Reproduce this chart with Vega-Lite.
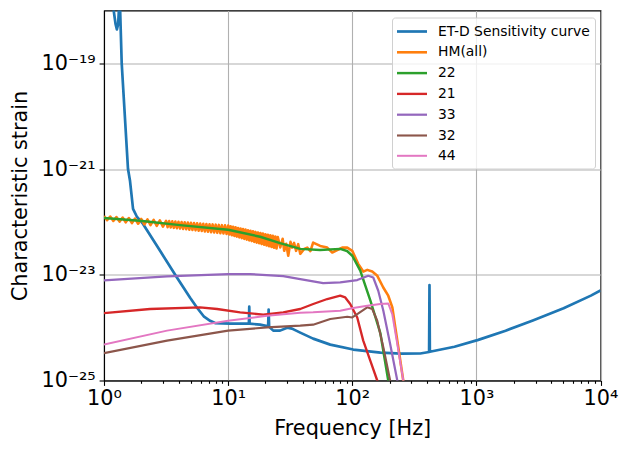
{
  "$schema": "https://vega.github.io/schema/vega-lite/v6.json",
  "autosize": {"type": "none"},
  "padding": {"left": 104, "top": 10.5, "right": 27.5, "bottom": 69.5},
  "width": 496.5,
  "height": 370,
  "background": "white",
  "config": {
    "font": "DejaVu Sans",
    "view": {"stroke": "black", "strokeWidth": 1.1},
    "axis": {
      "labelFont": "DejaVu Sans",
      "titleFont": "DejaVu Sans",
      "labelFontSize": 20.8,
      "titleFontSize": 20.8,
      "titleFontWeight": "normal",
      "labelColor": "black",
      "titleColor": "black",
      "domainColor": "black",
      "domainWidth": 1.1,
      "tickColor": "black",
      "tickWidth": 1.1,
      "gridColor": "#b0b0b0",
      "gridWidth": 1.1,
      "labelOverlap": false,
      "labelFlush": false
    },
    "legend": {
      "labelFont": "DejaVu Sans",
      "labelFontSize": 13.9,
      "labelColor": "black"
    }
  },
  "data": {
    "values": [
      {"series": "ET-D Sensitivity curve", "f": 1.0, "h": 1e-16},
      {"series": "ET-D Sensitivity curve", "f": 1.19, "h": 1.1e-18},
      {"series": "ET-D Sensitivity curve", "f": 1.24, "h": 5.5e-19},
      {"series": "ET-D Sensitivity curve", "f": 1.27, "h": 4.4e-19},
      {"series": "ET-D Sensitivity curve", "f": 1.30, "h": 5.5e-19},
      {"series": "ET-D Sensitivity curve", "f": 1.33, "h": 1.5e-18},
      {"series": "ET-D Sensitivity curve", "f": 1.345, "h": 1.3e-18},
      {"series": "ET-D Sensitivity curve", "f": 1.389, "h": 1.0e-19},
      {"series": "ET-D Sensitivity curve", "f": 1.561, "h": 1.0e-21},
      {"series": "ET-D Sensitivity curve", "f": 1.621, "h": 5.94e-22},
      {"series": "ET-D Sensitivity curve", "f": 1.714, "h": 1.76e-22},
      {"series": "ET-D Sensitivity curve", "f": 1.845, "h": 1.24e-22},
      {"series": "ET-D Sensitivity curve", "f": 2.063, "h": 9.16e-23},
      {"series": "ET-D Sensitivity curve", "f": 2.83, "h": 2.84e-23},
      {"series": "ET-D Sensitivity curve", "f": 3.88, "h": 8.77e-24},
      {"series": "ET-D Sensitivity curve", "f": 4.94, "h": 3.68e-24},
      {"series": "ET-D Sensitivity curve", "f": 5.62, "h": 2.38e-24},
      {"series": "ET-D Sensitivity curve", "f": 6.40, "h": 1.61e-24},
      {"series": "ET-D Sensitivity curve", "f": 7.16, "h": 1.35e-24},
      {"series": "ET-D Sensitivity curve", "f": 7.85, "h": 1.22e-24},
      {"series": "ET-D Sensitivity curve", "f": 10.4, "h": 1.19e-24},
      {"series": "ET-D Sensitivity curve", "f": 14.5, "h": 1.19e-24},
      {"series": "ET-D Sensitivity curve", "f": 14.7, "h": 1.19e-24},
      {"series": "ET-D Sensitivity curve", "f": 14.8, "h": 2.49e-24},
      {"series": "ET-D Sensitivity curve", "f": 14.9, "h": 1.19e-24},
      {"series": "ET-D Sensitivity curve", "f": 18.1, "h": 1.14e-24},
      {"series": "ET-D Sensitivity curve", "f": 20.6, "h": 1.07e-24},
      {"series": "ET-D Sensitivity curve", "f": 21.0, "h": 1.06e-24},
      {"series": "ET-D Sensitivity curve", "f": 21.2, "h": 2.19e-24},
      {"series": "ET-D Sensitivity curve", "f": 21.4, "h": 1.04e-24},
      {"series": "ET-D Sensitivity curve", "f": 23.1, "h": 8.78e-25},
      {"series": "ET-D Sensitivity curve", "f": 26.2, "h": 8.78e-25},
      {"series": "ET-D Sensitivity curve", "f": 29.9, "h": 1.0e-24},
      {"series": "ET-D Sensitivity curve", "f": 32.7, "h": 9.57e-25},
      {"series": "ET-D Sensitivity curve", "f": 38.1, "h": 8.05e-25},
      {"series": "ET-D Sensitivity curve", "f": 48.4, "h": 6.2e-25},
      {"series": "ET-D Sensitivity curve", "f": 66.5, "h": 4.77e-25},
      {"series": "ET-D Sensitivity curve", "f": 101.9, "h": 3.85e-25},
      {"series": "ET-D Sensitivity curve", "f": 168.6, "h": 3.37e-25},
      {"series": "ET-D Sensitivity curve", "f": 250, "h": 3.22e-25},
      {"series": "ET-D Sensitivity curve", "f": 353, "h": 3.24e-25},
      {"series": "ET-D Sensitivity curve", "f": 416, "h": 3.46e-25},
      {"series": "ET-D Sensitivity curve", "f": 419, "h": 6.38e-24},
      {"series": "ET-D Sensitivity curve", "f": 422, "h": 3.5e-25},
      {"series": "ET-D Sensitivity curve", "f": 666, "h": 4.36e-25},
      {"series": "ET-D Sensitivity curve", "f": 1036, "h": 5.87e-25},
      {"series": "ET-D Sensitivity curve", "f": 1720, "h": 8.77e-25},
      {"series": "ET-D Sensitivity curve", "f": 2850, "h": 1.37e-24},
      {"series": "ET-D Sensitivity curve", "f": 5040, "h": 2.33e-24},
      {"series": "ET-D Sensitivity curve", "f": 8367, "h": 4.03e-24},
      {"series": "ET-D Sensitivity curve", "f": 10000, "h": 5.05e-24},

      {"series": "HM(all)", "f": 1.0, "h": 1.288e-22},
      {"series": "HM(all)", "f": 1.059, "h": 1.079e-22},
      {"series": "HM(all)", "f": 1.122, "h": 1.262e-22},
      {"series": "HM(all)", "f": 1.189, "h": 1.047e-22},
      {"series": "HM(all)", "f": 1.259, "h": 1.236e-22},
      {"series": "HM(all)", "f": 1.334, "h": 1.014e-22},
      {"series": "HM(all)", "f": 1.413, "h": 1.211e-22},
      {"series": "HM(all)", "f": 1.496, "h": 9.84e-23},
      {"series": "HM(all)", "f": 1.585, "h": 1.186e-22},
      {"series": "HM(all)", "f": 1.679, "h": 9.53e-23},
      {"series": "HM(all)", "f": 1.778, "h": 1.161e-22},
      {"series": "HM(all)", "f": 1.884, "h": 9.25e-23},
      {"series": "HM(all)", "f": 1.995, "h": 1.138e-22},
      {"series": "HM(all)", "f": 2.113, "h": 8.95e-23},
      {"series": "HM(all)", "f": 2.239, "h": 1.114e-22},
      {"series": "HM(all)", "f": 2.371, "h": 8.69e-23},
      {"series": "HM(all)", "f": 2.512, "h": 1.091e-22},
      {"series": "HM(all)", "f": 2.661, "h": 8.41e-23},
      {"series": "HM(all)", "f": 2.818, "h": 1.069e-22},
      {"series": "HM(all)", "f": 2.985, "h": 8.17e-23},
      {"series": "HM(all)", "f": 3.162, "h": 1.047e-22},
      {"series": "HM(all)", "f": 3.255, "h": 7.97e-23},
      {"series": "HM(all)", "f": 3.350, "h": 1.036e-22},
      {"series": "HM(all)", "f": 3.447, "h": 7.85e-23},
      {"series": "HM(all)", "f": 3.548, "h": 1.026e-22},
      {"series": "HM(all)", "f": 3.652, "h": 7.73e-23},
      {"series": "HM(all)", "f": 3.758, "h": 1.015e-22},
      {"series": "HM(all)", "f": 3.868, "h": 7.61e-23},
      {"series": "HM(all)", "f": 3.981, "h": 1.005e-22},
      {"series": "HM(all)", "f": 4.097, "h": 7.49e-23},
      {"series": "HM(all)", "f": 4.217, "h": 9.94e-23},
      {"series": "HM(all)", "f": 4.340, "h": 7.38e-23},
      {"series": "HM(all)", "f": 4.467, "h": 9.84e-23},
      {"series": "HM(all)", "f": 4.597, "h": 7.26e-23},
      {"series": "HM(all)", "f": 4.732, "h": 9.74e-23},
      {"series": "HM(all)", "f": 4.870, "h": 7.15e-23},
      {"series": "HM(all)", "f": 5.012, "h": 9.64e-23},
      {"series": "HM(all)", "f": 5.158, "h": 7.04e-23},
      {"series": "HM(all)", "f": 5.309, "h": 9.54e-23},
      {"series": "HM(all)", "f": 5.464, "h": 6.93e-23},
      {"series": "HM(all)", "f": 5.623, "h": 9.44e-23},
      {"series": "HM(all)", "f": 5.787, "h": 6.83e-23},
      {"series": "HM(all)", "f": 5.957, "h": 9.34e-23},
      {"series": "HM(all)", "f": 6.131, "h": 6.72e-23},
      {"series": "HM(all)", "f": 6.310, "h": 9.25e-23},
      {"series": "HM(all)", "f": 6.494, "h": 6.62e-23},
      {"series": "HM(all)", "f": 6.683, "h": 9.15e-23},
      {"series": "HM(all)", "f": 6.879, "h": 6.51e-23},
      {"series": "HM(all)", "f": 7.079, "h": 9.06e-23},
      {"series": "HM(all)", "f": 7.286, "h": 6.41e-23},
      {"series": "HM(all)", "f": 7.499, "h": 8.97e-23},
      {"series": "HM(all)", "f": 7.718, "h": 6.31e-23},
      {"series": "HM(all)", "f": 7.943, "h": 8.87e-23},
      {"series": "HM(all)", "f": 8.175, "h": 6.22e-23},
      {"series": "HM(all)", "f": 8.414, "h": 8.78e-23},
      {"series": "HM(all)", "f": 8.660, "h": 6.12e-23},
      {"series": "HM(all)", "f": 8.913, "h": 8.69e-23},
      {"series": "HM(all)", "f": 9.173, "h": 6.03e-23},
      {"series": "HM(all)", "f": 9.441, "h": 8.60e-23},
      {"series": "HM(all)", "f": 9.716, "h": 5.93e-23},
      {"series": "HM(all)", "f": 10.0, "h": 8.51e-23},
      {"series": "HM(all)", "f": 10.23, "h": 5.79e-23},
      {"series": "HM(all)", "f": 10.47, "h": 8.30e-23},
      {"series": "HM(all)", "f": 10.72, "h": 5.61e-23},
      {"series": "HM(all)", "f": 10.96, "h": 8.10e-23},
      {"series": "HM(all)", "f": 11.22, "h": 5.43e-23},
      {"series": "HM(all)", "f": 11.48, "h": 7.90e-23},
      {"series": "HM(all)", "f": 11.75, "h": 5.26e-23},
      {"series": "HM(all)", "f": 12.02, "h": 7.70e-23},
      {"series": "HM(all)", "f": 12.30, "h": 5.09e-23},
      {"series": "HM(all)", "f": 12.59, "h": 7.52e-23},
      {"series": "HM(all)", "f": 12.88, "h": 4.93e-23},
      {"series": "HM(all)", "f": 13.18, "h": 7.33e-23},
      {"series": "HM(all)", "f": 13.49, "h": 4.78e-23},
      {"series": "HM(all)", "f": 13.80, "h": 7.15e-23},
      {"series": "HM(all)", "f": 14.13, "h": 4.62e-23},
      {"series": "HM(all)", "f": 14.45, "h": 6.98e-23},
      {"series": "HM(all)", "f": 14.79, "h": 4.48e-23},
      {"series": "HM(all)", "f": 15.14, "h": 6.81e-23},
      {"series": "HM(all)", "f": 15.49, "h": 4.34e-23},
      {"series": "HM(all)", "f": 15.85, "h": 6.64e-23},
      {"series": "HM(all)", "f": 16.22, "h": 4.20e-23},
      {"series": "HM(all)", "f": 16.60, "h": 6.47e-23},
      {"series": "HM(all)", "f": 16.98, "h": 4.06e-23},
      {"series": "HM(all)", "f": 17.38, "h": 6.31e-23},
      {"series": "HM(all)", "f": 17.78, "h": 3.94e-23},
      {"series": "HM(all)", "f": 18.20, "h": 6.16e-23},
      {"series": "HM(all)", "f": 18.62, "h": 3.81e-23},
      {"series": "HM(all)", "f": 19.05, "h": 6.01e-23},
      {"series": "HM(all)", "f": 19.50, "h": 3.69e-23},
      {"series": "HM(all)", "f": 19.95, "h": 5.86e-23},
      {"series": "HM(all)", "f": 20.42, "h": 3.57e-23},
      {"series": "HM(all)", "f": 20.89, "h": 5.72e-23},
      {"series": "HM(all)", "f": 21.38, "h": 3.46e-23},
      {"series": "HM(all)", "f": 21.88, "h": 5.58e-23},
      {"series": "HM(all)", "f": 22.39, "h": 3.35e-23},
      {"series": "HM(all)", "f": 22.91, "h": 5.44e-23},
      {"series": "HM(all)", "f": 23.44, "h": 3.24e-23},
      {"series": "HM(all)", "f": 23.99, "h": 5.31e-23},
      {"series": "HM(all)", "f": 24.55, "h": 3.14e-23},
      {"series": "HM(all)", "f": 25.12, "h": 5.18e-23},
      {"series": "HM(all)", "f": 26.3, "h": 3.3e-23},
      {"series": "HM(all)", "f": 27.5, "h": 4.8e-23},
      {"series": "HM(all)", "f": 28.3, "h": 2.84e-23},
      {"series": "HM(all)", "f": 29.4, "h": 3.85e-23},
      {"series": "HM(all)", "f": 30.5, "h": 2.29e-23},
      {"series": "HM(all)", "f": 31.8, "h": 4.2e-23},
      {"series": "HM(all)", "f": 32.8, "h": 3.27e-23},
      {"series": "HM(all)", "f": 34.0, "h": 4.0e-23},
      {"series": "HM(all)", "f": 35.3, "h": 2.84e-23},
      {"series": "HM(all)", "f": 36.7, "h": 3.8e-23},
      {"series": "HM(all)", "f": 38.1, "h": 2.49e-23},
      {"series": "HM(all)", "f": 41.0, "h": 3.09e-23},
      {"series": "HM(all)", "f": 43.4, "h": 3.27e-23},
      {"series": "HM(all)", "f": 46.0, "h": 2.8e-23},
      {"series": "HM(all)", "f": 48.4, "h": 4.07e-23},
      {"series": "HM(all)", "f": 55.2, "h": 3.52e-23},
      {"series": "HM(all)", "f": 62.8, "h": 3.27e-23},
      {"series": "HM(all)", "f": 69.0, "h": 2.64e-23},
      {"series": "HM(all)", "f": 75.7, "h": 2.92e-23},
      {"series": "HM(all)", "f": 83.0, "h": 3.27e-23},
      {"series": "HM(all)", "f": 91.2, "h": 3.27e-23},
      {"series": "HM(all)", "f": 100, "h": 2.84e-23},
      {"series": "HM(all)", "f": 111.7, "h": 1.61e-23},
      {"series": "HM(all)", "f": 122.7, "h": 1.15e-23},
      {"series": "HM(all)", "f": 132.1, "h": 1.24e-23},
      {"series": "HM(all)", "f": 144.9, "h": 1.15e-23},
      {"series": "HM(all)", "f": 159.2, "h": 9.57e-24},
      {"series": "HM(all)", "f": 177.8, "h": 5.75e-24},
      {"series": "HM(all)", "f": 195, "h": 4.02e-24},
      {"series": "HM(all)", "f": 210.4, "h": 2.42e-24},
      {"series": "HM(all)", "f": 222.3, "h": 1.01e-24},
      {"series": "HM(all)", "f": 235, "h": 4.27e-25},
      {"series": "HM(all)", "f": 257.6, "h": 1.0e-25},
      {"series": "HM(all)", "f": 282, "h": 2.5e-26},

      {"series": "22", "f": 1, "h": 1.19e-22},
      {"series": "22", "f": 1.95, "h": 1.05e-22},
      {"series": "22", "f": 4.1, "h": 8.7e-23},
      {"series": "22", "f": 10, "h": 7.1e-23},
      {"series": "22", "f": 18.1, "h": 5.25e-23},
      {"series": "22", "f": 26.2, "h": 3.98e-23},
      {"series": "22", "f": 38.1, "h": 3.09e-23},
      {"series": "22", "f": 55, "h": 2.95e-23},
      {"series": "22", "f": 80, "h": 3.09e-23},
      {"series": "22", "f": 90.8, "h": 2.82e-23},
      {"series": "22", "f": 100, "h": 2.29e-23},
      {"series": "22", "f": 116, "h": 1.2e-23},
      {"series": "22", "f": 140, "h": 3.24e-24},
      {"series": "22", "f": 168.6, "h": 7.76e-25},
      {"series": "22", "f": 195, "h": 1.0e-25},
      {"series": "22", "f": 230, "h": 2.0e-26},

      {"series": "21", "f": 1, "h": 1.88e-24},
      {"series": "21", "f": 2.35, "h": 2.25e-24},
      {"series": "21", "f": 5.94, "h": 2.42e-24},
      {"series": "21", "f": 8.15, "h": 2.25e-24},
      {"series": "21", "f": 12.5, "h": 1.95e-24},
      {"series": "21", "f": 19.2, "h": 1.76e-24},
      {"series": "21", "f": 27.8, "h": 1.95e-24},
      {"series": "21", "f": 38.1, "h": 2.25e-24},
      {"series": "21", "f": 48.5, "h": 2.8e-24},
      {"series": "21", "f": 62.9, "h": 3.48e-24},
      {"series": "21", "f": 80, "h": 4.02e-24},
      {"series": "21", "f": 87.8, "h": 3.73e-24},
      {"series": "21", "f": 96.3, "h": 2.8e-24},
      {"series": "21", "f": 109.7, "h": 1.56e-24},
      {"series": "21", "f": 122.6, "h": 5.69e-25},
      {"series": "21", "f": 139.7, "h": 2.38e-25},
      {"series": "21", "f": 159, "h": 1.0e-25},
      {"series": "21", "f": 180, "h": 4e-26},

      {"series": "33", "f": 1, "h": 7.87e-24},
      {"series": "33", "f": 3.22, "h": 9.29e-24},
      {"series": "33", "f": 10, "h": 1.03e-23},
      {"series": "33", "f": 15, "h": 1.03e-23},
      {"series": "33", "f": 27.8, "h": 9.44e-24},
      {"series": "33", "f": 38.1, "h": 8.3e-24},
      {"series": "33", "f": 58.3, "h": 6.97e-24},
      {"series": "33", "f": 80, "h": 7.16e-24},
      {"series": "33", "f": 109.7, "h": 7.94e-24},
      {"series": "33", "f": 134.6, "h": 9.57e-24},
      {"series": "33", "f": 147.6, "h": 8.89e-24},
      {"series": "33", "f": 162, "h": 4.99e-24},
      {"series": "33", "f": 178, "h": 2.09e-24},
      {"series": "33", "f": 202, "h": 4.92e-25},
      {"series": "33", "f": 230.6, "h": 1.0e-25},
      {"series": "33", "f": 260, "h": 2e-26},

      {"series": "32", "f": 1, "h": 3.3e-25},
      {"series": "32", "f": 3.22, "h": 5.69e-25},
      {"series": "32", "f": 10, "h": 8.78e-25},
      {"series": "32", "f": 20.6, "h": 1.01e-24},
      {"series": "32", "f": 38.1, "h": 1.09e-24},
      {"series": "32", "f": 48.4, "h": 1.14e-24},
      {"series": "32", "f": 66.5, "h": 1.46e-24},
      {"series": "32", "f": 91.2, "h": 1.61e-24},
      {"series": "32", "f": 100, "h": 1.56e-24},
      {"series": "32", "f": 109.7, "h": 1.81e-24},
      {"series": "32", "f": 132, "h": 2.42e-24},
      {"series": "32", "f": 145, "h": 2.25e-24},
      {"series": "32", "f": 159, "h": 1.35e-24},
      {"series": "32", "f": 178, "h": 4.25e-25},
      {"series": "32", "f": 202, "h": 1.0e-25},
      {"series": "32", "f": 225, "h": 2.5e-26},

      {"series": "44", "f": 1, "h": 4.77e-25},
      {"series": "44", "f": 3.22, "h": 8.78e-25},
      {"series": "44", "f": 10, "h": 1.35e-24},
      {"series": "44", "f": 20.6, "h": 1.68e-24},
      {"series": "44", "f": 38.1, "h": 1.92e-24},
      {"series": "44", "f": 48.4, "h": 1.95e-24},
      {"series": "44", "f": 80, "h": 2.09e-24},
      {"series": "44", "f": 101.9, "h": 2.36e-24},
      {"series": "44", "f": 132, "h": 2.6e-24},
      {"series": "44", "f": 168.3, "h": 2.8e-24},
      {"series": "44", "f": 195, "h": 2.87e-24},
      {"series": "44", "f": 210, "h": 1.81e-24},
      {"series": "44", "f": 230.6, "h": 4.92e-25},
      {"series": "44", "f": 257.7, "h": 1.0e-25},
      {"series": "44", "f": 280, "h": 2.5e-26}
    ]
  },
  "mark": {"type": "line", "clip": true, "strokeJoin": "round"},
  "encoding": {
    "x": {
      "field": "f",
      "type": "quantitative",
      "title": "Frequency [Hz]",
      "scale": {"type": "log", "domain": [1, 10000], "nice": false},
      "axis": {
        "values": [1, 2, 3, 4, 5, 6, 7, 8, 9, 10, 20, 30, 40, 50, 60, 70, 80, 90, 100, 200, 300, 400, 500, 600, 700, 800, 900, 1000, 2000, 3000, 4000, 5000, 6000, 7000, 8000, 9000, 10000],
        "labelExpr": "datum.value == 1 ? '10⁰' : datum.value == 10 ? '10¹' : datum.value == 100 ? '10²' : datum.value == 1000 ? '10³' : datum.value == 10000 ? '10⁴' : ''",
        "tickSize": {"condition": {"test": "indexof([1, 10, 100, 1000, 10000], datum.value) >= 0", "value": 4.9}, "value": 2.8},
        "gridOpacity": {"condition": {"test": "indexof([1, 10, 100, 1000, 10000], datum.value) >= 0", "value": 1}, "value": 0},
        "labelPadding": 3,
        "titlePadding": 10
      }
    },
    "y": {
      "field": "h",
      "type": "quantitative",
      "title": "Characteristic strain",
      "scale": {"type": "log", "domain": [1e-25, 1e-18], "nice": false},
      "axis": {
        "values": [1e-25, 1e-23, 1e-21, 1e-19],
        "labelExpr": "datum.value < 5e-25 ? '10⁻²⁵' : datum.value < 5e-23 ? '10⁻²³' : datum.value < 5e-21 ? '10⁻²¹' : '10⁻¹⁹'",
        "tickSize": 4.9,
        "labelPadding": 4,
        "titlePadding": 10
      }
    },
    "color": {
      "field": "series",
      "type": "nominal",
      "scale": {
        "domain": ["ET-D Sensitivity curve", "HM(all)", "22", "21", "33", "32", "44"],
        "range": ["#1f77b4", "#ff7f0e", "#2ca02c", "#d62728", "#9467bd", "#8c564b", "#e377c2"]
      },
      "legend": {
        "title": null,
        "orient": "none",
        "legendX": 288,
        "legendY": 7,
        "symbolType": "M-2,0L2,0",
        "symbolSize": 225,
        "symbolOffset": 6,
        "labelOffset": 17,
        "rowPadding": 4.8,
        "padding": 5,
        "fillColor": "rgba(255,255,255,0.8)",
        "strokeColor": "#d0d0d0",
        "cornerRadius": 3
      }
    },
    "strokeWidth": {
      "field": "series",
      "type": "nominal",
      "scale": {
        "domain": ["ET-D Sensitivity curve", "HM(all)", "22", "21", "33", "32", "44"],
        "range": [2.7, 2, 2, 2, 2, 2, 2]
      },
      "legend": null
    }
  }
}
